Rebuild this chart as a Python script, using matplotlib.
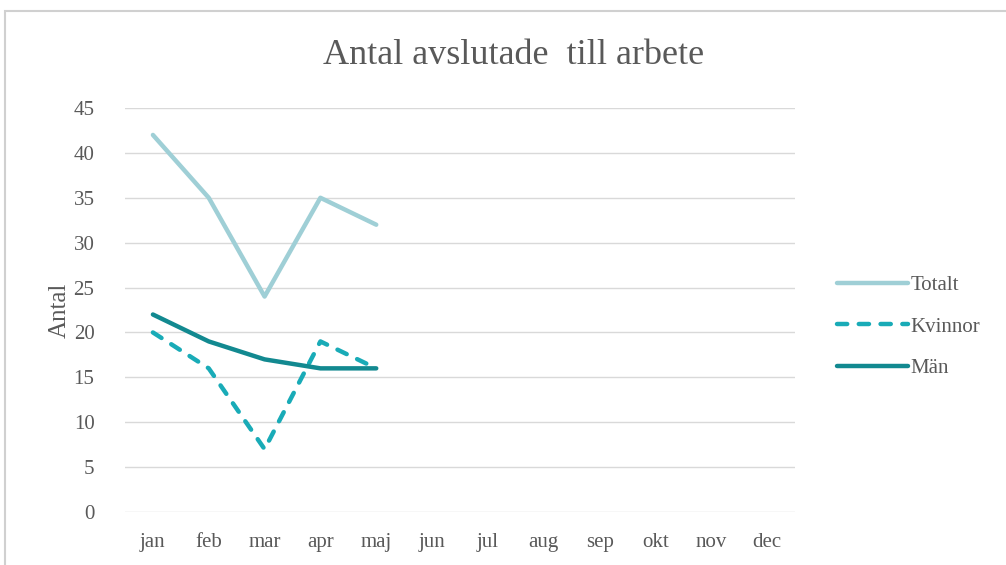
import matplotlib
matplotlib.use("Agg")
import matplotlib.pyplot as plt
from matplotlib.patches import Rectangle

months = ["jan", "feb", "mar", "apr", "maj", "jun", "jul", "aug", "sep", "okt", "nov", "dec"]
totalt = [42, 35, 24, 35, 32]
kvinnor = [20, 16, 7, 19, 16]
man = [22, 19, 17, 16, 16]
yticks = [0, 5, 10, 15, 20, 25, 30, 35, 40, 45]

plt.rcParams['font.family'] = ['Liberation Serif', 'DejaVu Serif']
txt = '#595959'

fig = plt.figure(figsize=(10.06, 5.65), dpi=100)
W, H = 1006, 565
# outer chart frame
fig.patches.append(Rectangle((5 / W, -0.05), 1.1, 1 - 11 / H + 0.05, transform=fig.transFigure,
                             fill=False, edgecolor='#D0D0D0', linewidth=1.5))

ax = fig.add_axes([125 / W, 1 - 512 / H, (795 - 125) / W, (512 - 108) / H])
x = list(range(len(months)))
ax.plot(x[:len(totalt)], totalt, color='#9FCFD6', lw=3.2, label='Totalt', solid_capstyle='round')
ax.plot(x[:len(kvinnor)], kvinnor, color='#19ABB7', lw=3.2, ls=(0, (2.3, 2.6)), label='Kvinnor',
        dash_capstyle='round')
ax.plot(x[:len(man)], man, color='#128990', lw=3.2, label='Män', solid_capstyle='round')

ax.set_xlim(-0.5, len(months) - 0.5)
ax.set_ylim(0, 45)
ax.set_yticks(yticks)
ax.set_xticks(x)
ax.set_xticklabels(months)
ax.grid(axis='y', color='#D9D9D9', lw=1)
ax.set_axisbelow(True)
for s in ax.spines.values():
    s.set_visible(False)
ax.tick_params(length=0, labelsize=15, colors=txt, pad=15)
ax.tick_params(axis='y', pad=22)
ax.set_ylabel('Antal', fontsize=18, color=txt, labelpad=2)

fig.text(514 / W, 1 - 55 / H, 'Antal avslutade  till arbete', ha='center', va='center',
         fontsize=26, color=txt)

leg = fig.legend(loc='upper left', bbox_to_anchor=(818 / W, 1 - 257 / H), frameon=False,
                 fontsize=15, handlelength=3.4, handletextpad=0.15, labelspacing=1.05,
                 labelcolor=txt)

fig.savefig('out.png', dpi=100)
